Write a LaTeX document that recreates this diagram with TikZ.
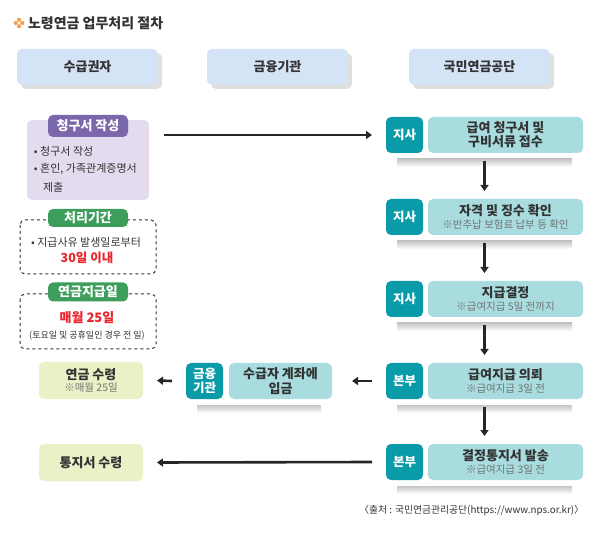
\documentclass[tikz,border=0pt]{standalone}
\usepackage{fontspec}
\setmainfont{Noto Sans CJK KR}
\usepackage{tikz}
\usetikzlibrary{arrows.meta,calc,positioning,shadows}

\definecolor{hdrblue}{HTML}{D4E3F5}
\definecolor{lavender}{HTML}{E4DCEE}
\definecolor{tabpurple}{HTML}{7B68AC}
\definecolor{tabgreen}{HTML}{3D9E5C}
\definecolor{tealdark}{HTML}{0A9BA8}
\definecolor{teallight}{HTML}{A8DCDF}
\definecolor{lime}{HTML}{EBF1C7}
\definecolor{txt}{HTML}{333333}
\definecolor{alert}{HTML}{E8262A}
\definecolor{star}{HTML}{F0A050}

\begin{document}
\begin{tikzpicture}[x=1pt,y=-1pt,
  every node/.style={inner sep=0pt,outer sep=0pt,text=txt},
  hdr/.style={fill=hdrblue,rounded corners=5pt,anchor=north west,
    minimum width=141pt,minimum height=36pt,font=\fontsize{13}{15}\selectfont\bfseries,
    drop shadow={shadow xshift=4pt,shadow yshift=-4pt,opacity=.25}},
  tealtag/.style={fill=tealdark,rounded corners=5pt,anchor=north west,
    minimum width=37pt,minimum height=36pt,text=white,font=\fontsize{12.5}{15}\selectfont\bfseries,align=center},
  tealbody/.style={fill=teallight,rounded corners=5pt,anchor=north west,
    minimum width=155pt,minimum height=36pt,align=center},
  limebox/.style={fill=lime,rounded corners=5pt,anchor=north west,
    minimum width=104pt,minimum height=37pt,align=center},
  tabbox/.style={rounded corners=5pt,minimum width=80pt,minimum height=20pt,
    text=white,font=\fontsize{13}{14}\selectfont\bfseries},
  dashbox/.style={draw=txt,dashed,line width=1pt,rounded corners=5pt},
  bullet/.style={anchor=west,font=\fontsize{11}{12}\selectfont},
  big/.style={font=\fontsize{12.5}{14}\selectfont\bfseries},
  flow/.style={line width=2.6pt,draw=black!85,-{Triangle[length=6pt,width=8pt]}},
  strip/.style={top color=gray!45,bottom color=white,draw=none}]
\useasboundingbox (0,0) rectangle (608,537);

\newcommand{\main}{\fontsize{13}{16}\selectfont\bfseries}
\newcommand{\sub}{\fontsize{10.5}{12}\selectfont\color{gray!90!black}}

% title
\foreach \dx/\dy in {0/-3.2,3.2/0,0/3.2,-3.2/0}
  \fill[star] (19+\dx,23+\dy) circle (2.1pt);
\node[anchor=west,font=\fontsize{14}{16}\selectfont\bfseries] (title) at (28,23) {노령연금 업무처리 절차};

% column heads
\node[hdr] (rcp) at (17,49) {수급권자};
\node[hdr] (bank) at (207,49) {금융기관};
\node[hdr] (nps) at (409,49) {국민연금공단};

% claim box
\fill[lavender,rounded corners=5pt] (27,120) rectangle (149,200);
\node[tabbox,fill=tabpurple,minimum height=22pt] (claimtab) at (88,126) {청구서 작성};
\coordinate (claim) at (149,135);
\node[bullet] (cl1) at (34,151) {• 청구서 작성};
\node[bullet] (cl2) at (34,169) {• 혼인, 가족관계증명서};
\node[bullet] (cl3) at (43,187) {제출};

% processing period
\draw[dashbox] (20,220) rectangle (156,274);
\node[tabbox,fill=tabgreen,minimum height=18pt] (periodtab) at (88,218) {처리기간};
\node[bullet,anchor=center] (pd1) at (86,242) {• 지급사유 발생일로부터};
\node[big,text=alert] (pd2) at (87,258) {30일 이내};

% payment day
\draw[dashbox] (20,294) rectangle (156,349);
\node[tabbox,fill=tabgreen,minimum height=19pt] (paytab) at (88,292) {연금지급일};
\node[big,text=alert,font=\fontsize{13}{15}\selectfont\bfseries] (pay1) at (87,318) {매월 25일};
\node[font=\fontsize{9}{11}\selectfont] (pay2) at (87,336) {(토요일 및 공휴일인 경우 전 일)};

% NPS steps
\node[tealtag] (s1tag) at (386,117) {지사};
\node[tealbody] (s1) at (428,117) {\main 급여 청구서 및\\[1pt]\main 구비서류 접수};
\node[tealtag] (s2tag) at (386,199) {지사};
\node[tealbody] (s2) at (428,199) {\main 자격 및 징수 확인\\[1pt]\sub ※반추납 보험료 납부 등 확인};
\node[tealtag] (s3tag) at (386,281) {지사};
\node[tealbody] (s3) at (428,281) {\main 지급결정\\[1pt]\sub ※급여지급 5일 전까지};
\node[tealtag] (s4tag) at (386,363) {본부};
\node[tealbody] (s4) at (428,363) {\main 급여지급 의뢰\\[1pt]\sub ※급여지급 3일 전};
\node[tealtag] (s5tag) at (386,444) {본부};
\node[tealbody] (s5) at (428,444) {\main 결정통지서 발송\\[1pt]\sub ※급여지급 3일 전};

% bank step
\node[tealtag,minimum width=37pt] (banktag) at (186,363) {금융\\[-1pt]기관};
\node[tealbody,minimum width=103pt] (bankbody) at (229,363) {\main 수급자 계좌에\\[1pt]\main 입금};

% shadows under teal rows
\foreach \t/\b in {s1tag/s1,s2tag/s2,s3tag/s3,s4tag/s4,s5tag/s5,banktag/bankbody}
  \shade[strip] ($(\t.south west)+(11,6)$) rectangle ($(\b.south east)+(-11,14)$);

% receiver boxes
\node[limebox] (recv) at (39,362) {\main 연금 수령\\[0pt]\sub ※매월 25일};
\node[limebox] (notice) at (39,444) {\main 통지서 수령};

% arrows
\draw[flow] ([xshift=15pt]claim) -- ([xshift=-14pt]s1tag.west);
\foreach \a/\b in {1/2,2/3,3/4,4/5}
  \draw[flow] ($(s\a tag.south west)!.5!(s\a.south east)+(0,8)$) -- ($(s\b tag.north west)!.5!(s\b.north east)+(0,-8)$);
\draw[flow] ([xshift=-14pt]s4tag.west) -- ([xshift=20pt]bankbody.east);
\draw[flow] ([xshift=-14pt]banktag.west) -- ([xshift=14pt]recv.east);
\draw[flow] ([xshift=-14pt]s5tag.west) -- ([xshift=14pt]notice.east);

% source
\node[anchor=east,font=\fontsize{9.8}{11}\selectfont] (src) at (584,510) {〈출처 : 국민연금관리공단(https://www.nps.or.kr)〉};
\end{tikzpicture}
\end{document}
